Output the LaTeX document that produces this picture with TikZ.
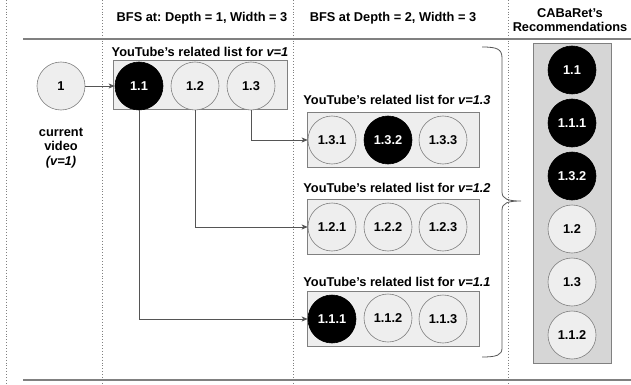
\documentclass[tikz,border=0pt]{standalone}
\usepackage{fontspec}
\setmainfont{Liberation Sans}
\usetikzlibrary{arrows.meta}
\frenchspacing
\definecolor{lightfill}{HTML}{EEEEEE}
\definecolor{colfill}{HTML}{D6D6D6}
\definecolor{edgegray}{HTML}{808080}
\definecolor{linegray}{HTML}{555555}
\begin{document}
\begin{tikzpicture}[x=1pt,y=-1pt,
  every node/.style={font=\fontsize{12.8}{14.5}\selectfont\bfseries},
  vid/.style={circle,draw=edgegray,fill=lightfill,minimum size=48pt,inner sep=0pt,line width=0.6pt},
  hot/.style={vid,fill=black,draw=black,text=white},
  listbox/.style={draw=edgegray,fill=lightfill,line width=0.6pt},
  colbox/.style={draw=edgegray,fill=colfill,line width=0.6pt},
  sep/.style={dotted,line width=0.9pt,draw=gray},
  rule/.style={draw=gray,line width=1.2pt},
  conn/.style={draw=linegray,line width=0.8pt,-{Stealth[length=6pt,width=5pt,inset=1.5pt]}},
  brc/.style={draw=linegray,line width=0.8pt}]
\useasboundingbox (0,0) rectangle (631,385);
% separators
\foreach \x in {6,102,293,508} \draw[sep] (\x,0) -- (\x,385);
\draw[rule] (23,39) -- (631,39);
\draw[rule] (23,380) -- (631,380);
% headers
\node (h1) at (202,18) {BFS at: Depth = 1, Width = 3};
\node (h2) at (393,18) {BFS at Depth = 2, Width = 3};
\node[align=center] (h3) at (570,20) {CABaRet’s\\Recommendations};
% current video
\node[vid] (v1) at (61,86) {1};
\node[align=center] (cur) at (61,148) {current\\video\\\textit{(v=1)}};
% depth 1 list
\node[listbox,minimum width=174pt,minimum height=49pt,inner sep=0pt] (b1) at (200,85) {};
\node (l1) at (200,52) {YouTube’s related list for \textit{v=1}};
\node[hot] (n11) at (139,86) {1.1};
\node[vid] (n12) at (195,86) {1.2};
\node[vid] (n13) at (251,86) {1.3};
% depth 2 lists
\node[listbox,minimum width=172pt,minimum height=55pt,inner sep=0pt] (b13) at (393,140) {};
\node (l13) at (397,100) {YouTube’s related list for \textit{v=1.3}};
\node[vid] (n131) at (332,140) {1.3.1};
\node[hot] (n132) at (388,140) {1.3.2};
\node[vid] (n133) at (443,140) {1.3.3};
\node[listbox,minimum width=172pt,minimum height=55pt,inner sep=0pt] (b12) at (393,227) {};
\node (l12) at (397,188) {YouTube’s related list for \textit{v=1.2}};
\node[vid] (n121) at (332,227) {1.2.1};
\node[vid] (n122) at (388,227) {1.2.2};
\node[vid] (n123) at (443,227) {1.2.3};
\node[listbox,minimum width=172pt,minimum height=55pt,inner sep=0pt] (b11) at (393,319) {};
\node (l11) at (397,282) {YouTube’s related list for \textit{v=1.1}};
\node[hot] (n111) at (332,319) {1.1.1};
\node[vid] (n112) at (388,318) {1.1.2};
\node[vid] (n113) at (443,319) {1.1.3};
% connectors
\draw[conn] (v1) -- (n11);
\draw[conn] (n13.south) |- (n131);
\draw[conn] (n12.south) |- (n121);
\draw[conn] (n11.south) |- (n111);
% brace
\coordinate (bt) at (482,47);
\coordinate (bb) at (482,357);
\coordinate (tip) at (521,201);
\draw[brc] (bt) .. controls (497,47) and (502,49) .. (502,58) -- (502,192)
  .. controls (502,199) and (508,201) .. (tip)
  .. controls (508,201) and (502,203) .. (502,210) -- (502,348)
  .. controls (502,355) and (497,357) .. (bb);
% recommendations column
\node[colbox,minimum width=78pt,minimum height=320pt,inner sep=0pt] (col) at (572,203) {};
\node[hot] (r1) at (572,70) {1.1};
\node[hot] (r2) at (572,123) {1.1.1};
\node[hot] (r3) at (572,176) {1.3.2};
\node[vid] (r4) at (572,229) {1.2};
\node[vid] (r5) at (572,282) {1.3};
\node[vid] (r6) at (572,335) {1.1.2};
\end{tikzpicture}
\end{document}
